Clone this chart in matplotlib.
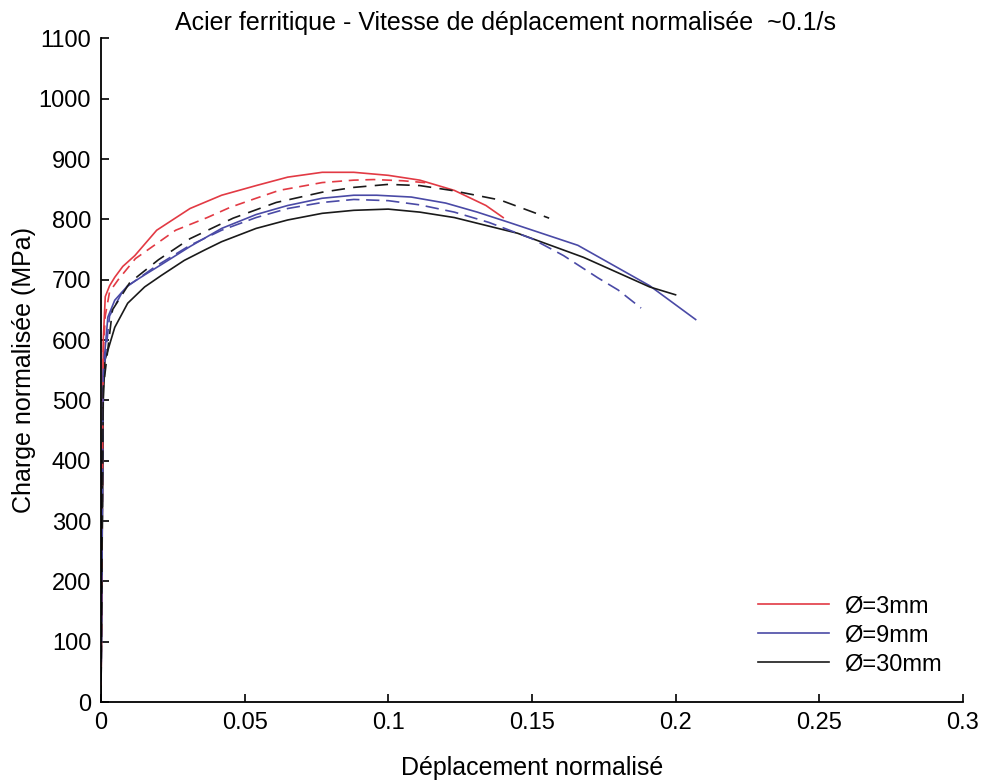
import matplotlib
matplotlib.use("Agg")
import matplotlib.pyplot as plt

plt.rcParams["font.family"] = ["Liberation Sans", "DejaVu Sans"]

# courbes charge / deplacement (solide = essai 1, tirets = essai 2)
x_3a = [0, 0.0008, 0.0015, 0.003, 0.0048, 0.0076, 0.0118, 0.0194, 0.031, 0.042, 0.054,
        0.065, 0.077, 0.088, 0.100, 0.111, 0.123, 0.134, 0.140]
y_3a = [0, 600, 672, 690, 704, 722, 740, 782, 818, 840, 856, 870, 878, 878, 873, 865, 848, 823, 803]
x_3b = [0, 0.0008, 0.0015, 0.003, 0.006, 0.012, 0.026, 0.037, 0.045, 0.054, 0.062,
        0.077, 0.088, 0.095, 0.105, 0.115]
y_3b = [0, 580, 640, 680, 700, 735, 782, 803, 820, 835, 848, 861, 865, 866, 864, 860]

x_9a = [0, 0.0008, 0.0024, 0.0048, 0.0093, 0.0152, 0.021, 0.031, 0.042, 0.054, 0.065, 0.077,
        0.088, 0.096, 0.108, 0.120, 0.131, 0.142, 0.166, 0.191, 0.207]
y_9a = [0, 550, 638, 666, 690, 708, 725, 755, 785, 808, 823, 835, 840, 840, 837, 827, 812,
        795, 757, 690, 634]
x_9b = [0, 0.0008, 0.003, 0.008, 0.019, 0.031, 0.042, 0.054, 0.065, 0.077, 0.088, 0.100,
        0.111, 0.123, 0.135, 0.150, 0.161, 0.173, 0.180, 0.188]
y_9b = [0, 540, 640, 685, 722, 757, 782, 803, 818, 828, 833, 831, 824, 812, 795, 768, 740,
        703, 683, 653]

x_30a = [0, 0.0008, 0.0014, 0.0048, 0.0093, 0.0152, 0.021, 0.029, 0.036, 0.042, 0.054, 0.065,
         0.077, 0.088, 0.100, 0.111, 0.123, 0.134, 0.145, 0.168, 0.191, 0.200]
y_30a = [0, 500, 567, 621, 661, 688, 707, 732, 749, 763, 785, 799, 810, 815, 817, 812, 803,
         790, 777, 737, 688, 675]
x_30b = [0, 0.0008, 0.004, 0.010, 0.020, 0.031, 0.046, 0.061, 0.077, 0.088, 0.100, 0.111,
         0.122, 0.139, 0.156]
y_30b = [0, 520, 650, 695, 733, 768, 802, 828, 845, 853, 858, 856, 848, 832, 802]

labels = ["Ø=3mm", "Ø=9mm", "Ø=30mm"]
c_red, c_blue, c_black = "#e23a44", "#4a4aa6", "#1a1a1a"

fig = plt.figure(figsize=(9.85, 7.83), dpi=100)
ax = fig.add_axes([0.1025, 0.1034, 0.875, 0.8476])

ax.plot(x_3a, y_3a, color=c_red, lw=1.2, label=labels[0])
ax.plot(x_9a, y_9a, color=c_blue, lw=1.2, label=labels[1])
ax.plot(x_30a, y_30a, color=c_black, lw=1.2, label=labels[2])
ax.plot(x_3b, y_3b, color=c_red, lw=1.2, ls=(0, (6, 4)))
ax.plot(x_9b, y_9b, color=c_blue, lw=1.2, ls=(0, (8, 4)))
ax.plot(x_30b, y_30b, color=c_black, lw=1.2, ls=(0, (8, 5)))

ax.set_xlim(0, 0.3)
ax.set_ylim(0, 1100)
ax.set_xticks([0, 0.05, 0.1, 0.15, 0.2, 0.25, 0.3])
ax.set_xticklabels(["0", "0.05", "0.1", "0.15", "0.2", "0.25", "0.3"])
ax.set_yticks(range(0, 1101, 100))
ax.spines["top"].set_visible(False)
ax.spines["right"].set_visible(False)
for s in ("left", "bottom"):
    ax.spines[s].set_linewidth(1.3)
ax.tick_params(direction="in", length=6, width=1.2, labelsize=17, pad=7)

ax.set_xlabel("Déplacement normalisé", fontsize=18, labelpad=16)
ax.set_ylabel("Charge normalisée (MPa)", fontsize=18, labelpad=2)
fig.text(0.513, 0.970, "Acier ferritique - Vitesse de déplacement normalisée  ~0.1/s",
         ha="center", va="center", fontsize=18)

ax.legend(loc="lower right", bbox_to_anchor=(1.0, 0.008), frameon=False, fontsize=17,
          handlelength=3.0, handletextpad=0.65, labelspacing=0.3)

fig.savefig("out.png", dpi=100)
